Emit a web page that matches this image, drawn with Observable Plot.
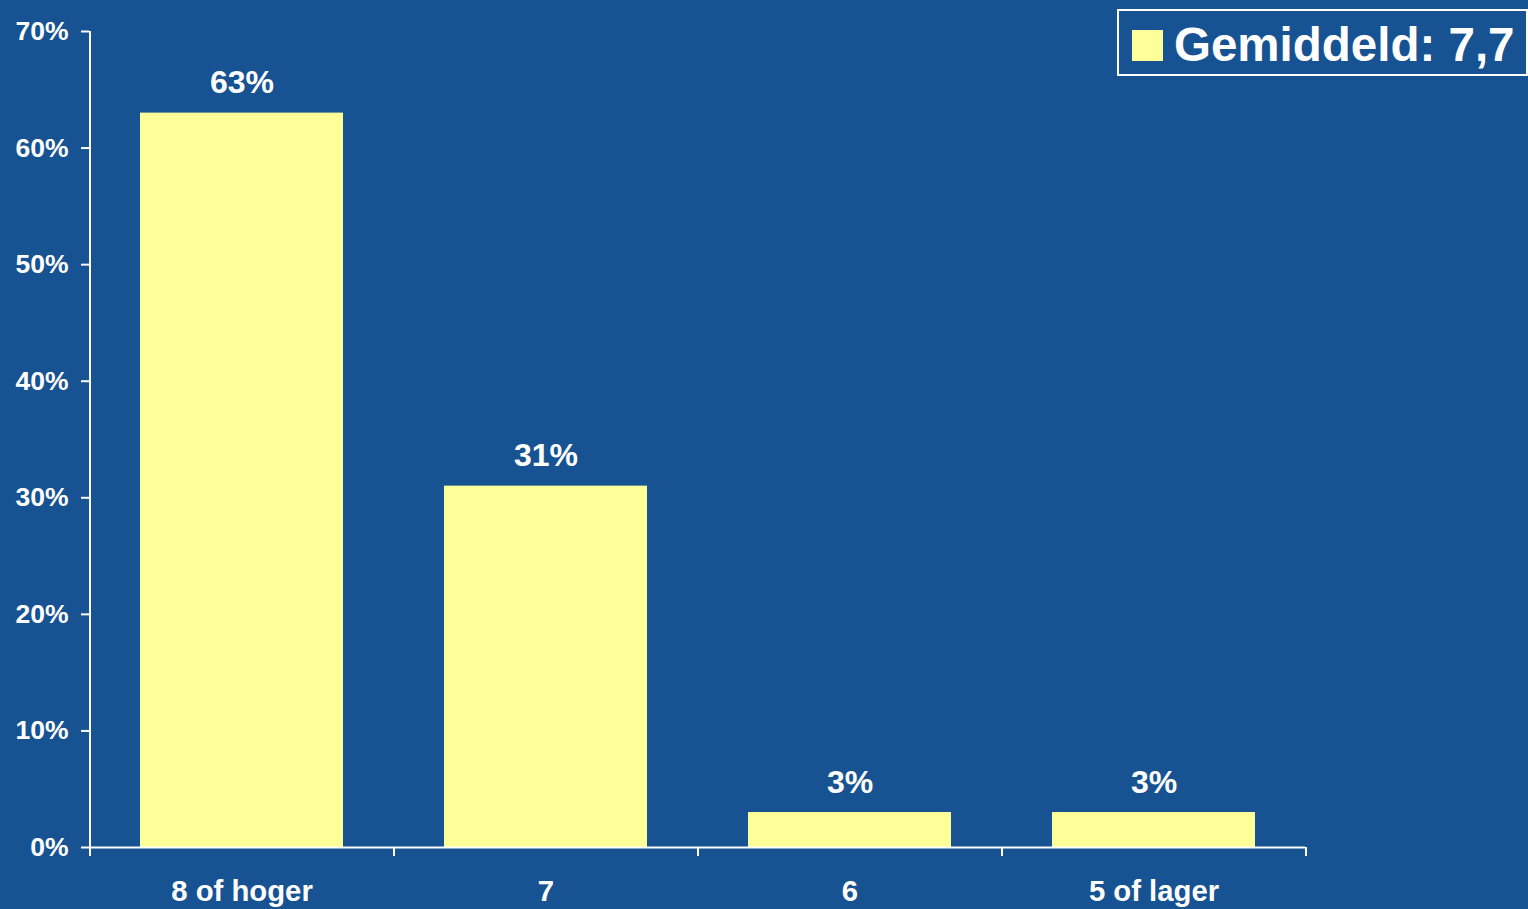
<!DOCTYPE html>
<html>
<head>
<meta charset="utf-8">
<script src="https://cdn.jsdelivr.net/npm/d3@7"></script>
<script src="https://cdn.jsdelivr.net/npm/@observablehq/plot@0.6"></script>
<style>
  html, body { margin: 0; padding: 0; background: #175292; overflow: hidden; }
  #wrap { position: relative; width: 1528px; height: 909px; }
  #legend {
    position: absolute; left: 1117px; top: 9px; width: 407px; height: 63px;
    border: 2px solid #ffffff;
    font-family: "Liberation Sans", Arial, sans-serif; font-weight: bold; color: #ffffff;
  }
  #legend .sw { position: absolute; left: 13px; top: 19px; width: 31px; height: 31px; background: #FFFF99; }
  #legend .lab { position: absolute; left: 55px; top: 10px; font-size: 47.5px; line-height: 47.5px; white-space: nowrap; }
</style>
</head>
<body>
<div id="wrap">
  <div id="chart"></div>
  <div id="legend"><div class="sw"></div><div class="lab"></div></div>
</div>
<script>
const categories = ["8 of hoger", "7", "6", "5 of lager"];
const values = [63, 31, 3, 3];
const yTicks = [0, 10, 20, 30, 40, 50, 60, 70];
const legendLabel = "Gemiddeld: 7,7";

const data = categories.map((c, i) => ({cat: c, value: values[i]}));
const white = "#ffffff";
const half = 152;

const chart = Plot.plot({
  width: 1528,
  height: 909,
  marginLeft: 89,
  marginRight: 223,
  marginTop: 31,
  marginBottom: 62,
  style: {
    background: "#175292",
    color: white,
    fontFamily: "'Liberation Sans', Arial, sans-serif",
    fontWeight: "bold",
    fontSize: "26px"
  },
  x: {domain: categories, paddingInner: 1/3, paddingOuter: 1/6, label: null},
  y: {domain: [0, 70], label: null},
  marks: [
    Plot.barY(data, {x: "cat", y: "value", fill: "#FFFF99"}),
    Plot.axisY({ticks: yTicks, tickSize: 8, tickPadding: 13, tickFormat: d => d + "%", fontSize: 26.5, stroke: white, strokeWidth: 2, label: null}),
    Plot.axisX({tickSize: 0, tickPadding: 33, fontSize: 29.3, label: null}),
    Plot.ruleY([0], {stroke: white, strokeWidth: 2}),
    Plot.ruleX([categories[0]], {x: d => d, dx: -half, y1: 0, y2: 70, stroke: white, strokeWidth: 2}),
    Plot.ruleX(categories, {x: d => d, dx: -half, y1: 0, y2: 0, insetBottom: -9, stroke: white, strokeWidth: 2}),
    Plot.ruleX([categories[categories.length - 1]], {x: d => d, dx: half, y1: 0, y2: 0, insetBottom: -9, stroke: white, strokeWidth: 2}),
    Plot.text(data, {x: "cat", y: "value", text: d => d.value + "%", dy: -20, lineAnchor: "bottom", fontSize: 32, fill: white})
  ]
});
document.getElementById("chart").appendChild(chart);
document.querySelector("#legend .lab").textContent = legendLabel;
</script>
</body>
</html>
